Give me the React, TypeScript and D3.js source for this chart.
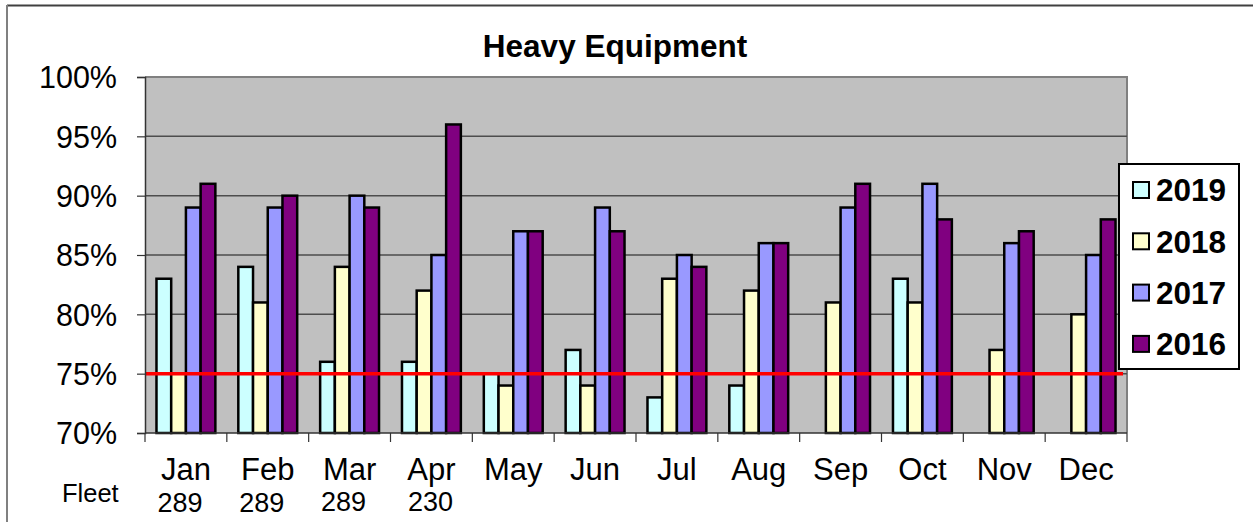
import { useEffect, useRef } from 'react';
import * as d3 from 'd3';

const months = ['Jan', 'Feb', 'Mar', 'Apr', 'May', 'Jun', 'Jul', 'Aug', 'Sep', 'Oct', 'Nov', 'Dec'];
const seriesNames = ['2019', '2018', '2017', '2016'];
const seriesColors = ['#CCFFFF', '#FFFFCC', '#9999FF', '#800080'];

const values2019: (number | null)[] = [0.83, 0.84, 0.76, 0.76, 0.75, 0.77, 0.73, 0.74, 0.70, 0.83, null, null];
const values2018: (number | null)[] = [0.75, 0.81, 0.84, 0.82, 0.74, 0.74, 0.83, 0.82, 0.81, 0.81, 0.77, 0.80];
const values2017: (number | null)[] = [0.89, 0.89, 0.90, 0.85, 0.87, 0.89, 0.85, 0.86, 0.89, 0.91, 0.86, 0.85];
const values2016: (number | null)[] = [0.91, 0.90, 0.89, 0.96, 0.87, 0.87, 0.84, 0.86, 0.91, 0.88, 0.87, 0.88];

const yTicks = [0.7, 0.75, 0.8, 0.85, 0.9, 0.95, 1.0];
const target = 0.75;

const fleetMonths = ['Jan', 'Feb', 'Mar', 'Apr'];
const fleetCounts = ['289', '289', '289', '230'];

const W = 1253;
const H = 522;

const App = () => {
  const svgRef = useRef<SVGSVGElement | null>(null);

  useEffect(() => {
    if (!svgRef.current) return;
    const svg = d3.select(svgRef.current);
    svg.selectAll('*').remove();

    const font = "'Liberation Sans', Arial, sans-serif";
    const left = 145, right = 1127, top = 77, bottom = 433;

    const x = d3.scaleBand<string>().domain(months).range([left, right]).padding(0);
    const xInner = d3.scaleBand<string>().domain(seriesNames).range([0, x.bandwidth()])
      .paddingInner(0).paddingOuter(0.78);
    const y = d3.scaleLinear().domain([0.7, 1.0]).range([bottom, top]);

    // outer chart frame (cropped)
    svg.append('line').attr('x1', 7).attr('x2', W).attr('y1', 5.5).attr('y2', 5.5)
      .attr('stroke', '#404040').attr('stroke-width', 2);
    svg.append('line').attr('x1', 7).attr('x2', 7).attr('y1', 5).attr('y2', H)
      .attr('stroke', '#808080').attr('stroke-width', 2);

    // plot area
    svg.append('rect')
      .attr('x', left).attr('y', top)
      .attr('width', right - left).attr('height', bottom - top)
      .attr('fill', '#C0C0C0');
    svg.append('path')
      .attr('d', `M${left},${top} H${right} V${bottom}`)
      .attr('fill', 'none').attr('stroke', '#808080').attr('stroke-width', 2);

    // gridlines
    svg.append('g').selectAll('line')
      .data(yTicks.filter(t => t > 0.7 && t < 1.0))
      .enter().append('line')
      .attr('x1', left).attr('x2', right)
      .attr('y1', d => y(d)).attr('y2', d => y(d))
      .attr('stroke', '#4d4d4d').attr('stroke-width', 1.5);

    // bars
    const allSeries = [values2019, values2018, values2017, values2016];
    allSeries.forEach((vals, si) => {
      svg.append('g').selectAll('rect')
        .data(vals.map((v, i) => ({ v, m: months[i] })).filter(d => d.v !== null))
        .enter().append('rect')
        .attr('x', d => (x(d.m) || 0) + (xInner(seriesNames[si]) || 0))
        .attr('y', d => y(d.v as number))
        .attr('width', xInner.bandwidth())
        .attr('height', d => bottom - y(d.v as number))
        .attr('fill', seriesColors[si])
        .attr('stroke', '#000')
        .attr('stroke-width', 2.5);
    });

    // target line
    svg.append('line')
      .attr('x1', left).attr('x2', right - 4)
      .attr('y1', y(target)).attr('y2', y(target))
      .attr('stroke', '#FF0000').attr('stroke-width', 3.5);

    // y axis
    const yAxis = svg.append('g').attr('transform', `translate(${left},0)`)
      .call(d3.axisLeft(y).tickValues(yTicks).tickSize(8).tickFormat(d3.format('.0%')));
    yAxis.select('.domain').attr('stroke', '#333').attr('stroke-width', 1.5);
    yAxis.selectAll('.tick line').attr('stroke', '#333').attr('stroke-width', 1.2);
    yAxis.selectAll('.tick text')
      .attr('x', -28)
      .attr('dy', '0.36em')
      .style('font-family', font).style('font-size', '30.5px').attr('fill', '#000');

    // x axis
    const xAxisG = svg.append('g').attr('transform', `translate(0,${bottom})`);
    xAxisG.append('line').attr('x1', left).attr('x2', right).attr('y1', 0).attr('y2', 0)
      .attr('stroke', '#333').attr('stroke-width', 1.5);
    xAxisG.selectAll('.xt')
      .data([...months.map(m => x(m) || 0), right])
      .enter().append('line')
      .attr('x1', d => d).attr('x2', d => d).attr('y1', 0).attr('y2', 9)
      .attr('stroke', '#333').attr('stroke-width', 1.2);
    xAxisG.selectAll('text')
      .data(months).enter().append('text')
      .attr('x', d => (x(d) || 0) + x.bandwidth() / 2)
      .attr('y', 47)
      .attr('text-anchor', 'middle')
      .style('font-family', font).style('font-size', '31px')
      .text(d => d);

    // fleet annotation
    svg.append('text').attr('x', 62).attr('y', 502)
      .style('font-family', font).style('font-size', '25.5px').text('Fleet');
    svg.append('g').selectAll('text')
      .data(fleetMonths.map((m, i) => ({ m, c: fleetCounts[i] })))
      .enter().append('text')
      .attr('x', (d, i) => (x(d.m) || 0) + x.bandwidth() / 2 - (i === 3 ? 1 : 6))
      .attr('y', (d, i) => (i < 2 ? 512 : 511))
      .attr('text-anchor', 'middle')
      .style('font-family', font).style('font-size', '27px')
      .text(d => d.c);

    // title
    svg.append('text').attr('x', 615).attr('y', 57)
      .attr('text-anchor', 'middle')
      .style('font-family', font).style('font-size', '31.5px').style('font-weight', 'bold')
      .text('Heavy Equipment');

    // legend
    const legend = svg.append('g').attr('transform', 'translate(1119,164)');
    legend.append('rect').attr('width', 120).attr('height', 205)
      .attr('fill', '#fff').attr('stroke', '#000').attr('stroke-width', 2);
    seriesNames.forEach((name, i) => {
      const row = legend.append('g').attr('transform', `translate(0,${26 + i * 51.3})`);
      row.append('rect').attr('x', 14).attr('y', -8).attr('width', 16).attr('height', 16)
        .attr('fill', seriesColors[i]).attr('stroke', '#000').attr('stroke-width', 2);
      row.append('text').attr('x', 37).attr('y', 0).attr('dy', '0.36em')
        .style('font-family', font).style('font-size', '31.5px').style('font-weight', 'bold')
        .text(name);
    });
  }, []);

  return (
    <svg
      ref={svgRef}
      width={W}
      height={H}
      style={{ position: 'absolute', left: 0, top: 0, background: '#fff', display: 'block' }}
    />
  );
};

export default App;
